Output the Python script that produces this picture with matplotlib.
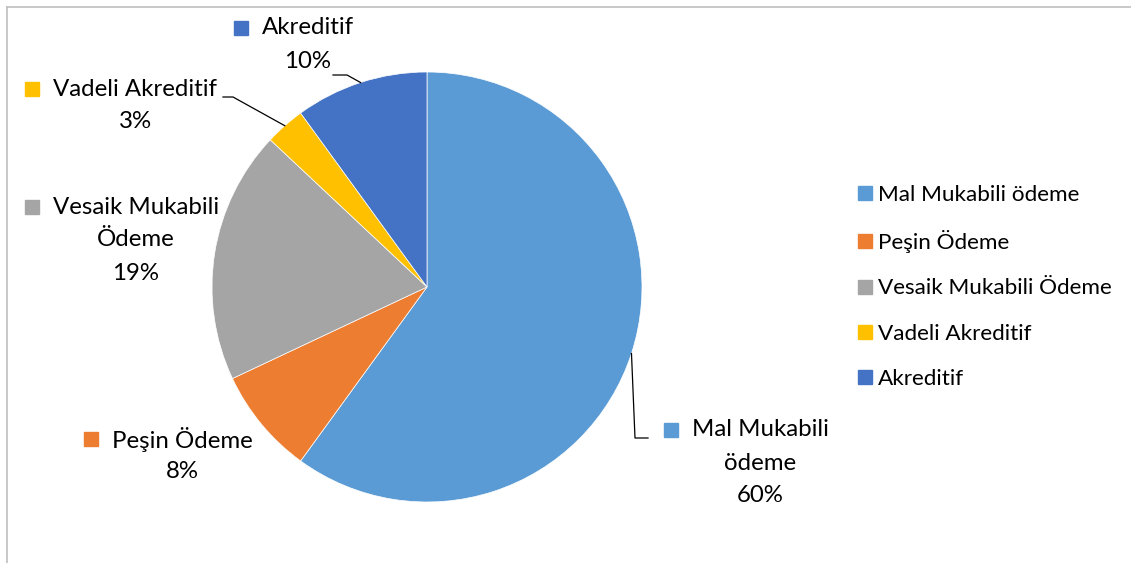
import numpy as np
import matplotlib
matplotlib.use("Agg")
from matplotlib import pyplot as plt
from matplotlib.lines import Line2D

plt.rcParams['font.family'] = ['Lato', 'DejaVu Sans']

# data
categories = ['Mal Mukabili ödeme', 'Peşin Ödeme', 'Vesaik Mukabili Ödeme', 'Vadeli Akreditif', 'Akreditif']
shares = [60, 8, 19, 3, 10]
colors = ['#5B9BD5', '#ED7D31', '#A5A5A5', '#FFC000', '#4472C4']
label_lines = [['Mal Mukabili', 'ödeme'], ['Peşin Ödeme'], ['Vesaik Mukabili', 'Ödeme'],
               ['Vadeli Akreditif'], ['Akreditif']]

W, H = 1131, 563
fig = plt.figure(figsize=(W / 100, H / 100), dpi=100)

# pie centre (427, 287) px, radius 215 px
cx, cy, R = 427, 287, 215
ax = fig.add_axes([(cx - R) / W, (H - cy - R) / H, 2 * R / W, 2 * R / H])
wedges, _ = ax.pie(shares, colors=colors, startangle=90, counterclock=False,
                   radius=1, wedgeprops=dict(edgecolor='white', linewidth=0.5))
ax.set_xlim(-1, 1)
ax.set_ylim(-1, 1)
ax.set_aspect('equal')


def px(x, y):
    # pixel position -> data coords of the pie axes
    return (x - cx) / R, (cy - y) / R


# label layout: text centre x, first line y (px), leader elbow points (px)
layout = [
    dict(x=760, y=430, leader=[(635, 438), (648, 438)]),
    dict(x=182, y=439, leader=None),
    dict(x=136, y=207, leader=None),
    dict(x=135, y=89, leader=[(233, 97), (223, 97)]),
    dict(x=308, y=28, leader=[(347, 75), (333, 75)]),
]
step = 33

fig.canvas.draw()
renderer = fig.canvas.get_renderer()
for w, lines, pct, col, lay in zip(wedges, label_lines, shares, colors, layout):
    all_lines = lines + ['%d%%' % pct]
    texts = []
    for i, s in enumerate(all_lines):
        tx, ty = px(lay['x'], lay['y'] + i * step)
        t = ax.text(tx, ty, s, ha='center', va='center', fontsize=17.3, color='#000000')
        texts.append(t)
    bb = texts[0].get_window_extent(renderer)
    sq_x = bb.x0 - 21
    sq_y = (bb.y0 + bb.y1) / 2
    ax.plot(*px(sq_x, H - sq_y), marker='s', markersize=10.5, color=col, linestyle='none',
            clip_on=False)
    if lay['leader']:
        ang = np.deg2rad((w.theta1 + w.theta2) / 2)
        pts = [(np.cos(ang), np.sin(ang))] + [px(*p) for p in lay['leader']]
        xs, ys = zip(*pts)
        ax.plot(xs, ys, color='black', linewidth=0.9, clip_on=False)

handles = [Line2D([], [], marker='s', color=c, linestyle='none', markersize=10.5) for c in colors]
fig.legend(handles, categories, loc='center left', bbox_to_anchor=(848 / W, 1 - 287 / H),
           frameon=False, fontsize=16.2, handlelength=0.7, handletextpad=0.25,
           labelspacing=1.13, borderaxespad=0)

# chart frame (top and left edges visible)
fig.add_artist(Line2D([7 / W, 7 / W], [0, 1 - 7 / H], color='#BFBFBF', linewidth=1.2))
fig.add_artist(Line2D([7 / W, 1], [1 - 7 / H, 1 - 7 / H], color='#BFBFBF', linewidth=1.2))

fig.savefig('out.png', dpi=100)
